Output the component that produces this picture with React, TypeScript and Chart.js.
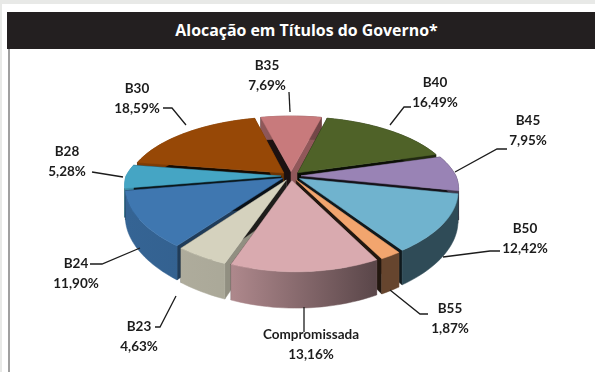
import React, { useEffect, useRef } from "react";
import { Chart, registerables } from "chart.js";

Chart.register(...registerables);

const chartTitle = "Alocação em Títulos do Governo*";
const categories = ["B35", "B40", "B45", "B50", "B55", "Compromissada", "B23", "B24", "B28", "B30"];
const allocation = [7.69, 16.49, 7.95, 12.42, 1.87, 13.16, 4.63, 11.9, 5.28, 18.59];
const sliceColors = ["#C87A7C", "#4F6228", "#9983B5", "#70B3CE", "#F2A56E", "#D9AAAF", "#D5D2BE", "#3F77B0", "#45A5C4", "#974806"];

// Label anchor (centre of the first text row) for each category.
const labelAnchors = [
  [267, 66], [435, 83], [528, 121], [525, 229], [450, 309],
  [311, 335], [139, 327], [76, 264], [67, 152], [137, 89],
];
// Leader polylines running from the slice to its label.
const leaderPaths = [
  [[290, 112], [289, 92]],
  [[390, 125], [404, 107], [411, 107]],
  [[455, 172], [497, 149], [507, 149]],
  [[443, 257], [490, 251], [500, 251]],
  [[390, 290], [420, 314], [428, 314]],
  [[304, 307], [304, 332]],
  [[176, 296], [160, 327], [155, 327]],
  [[140, 248], [102, 264], [90, 264]],
  [[123, 177], [92, 172]],
  [[186, 125], [172, 108], [163, 108]],
];

// Projection of the pie plane onto the screen.
const TILT = 0.447;
const PERSPECTIVE_Y = 0.216;
const PERSPECTIVE_X_NEAR = 0.15;
const PERSPECTIVE_X_FAR = 0.216;
const NEAR_SHEAR = 4;
const DEPTH = 28;
const SLICE_RADIUS = 155;
const EXPLODE = 10;

function shade(hex: string, f: number) {
  const n = parseInt(hex.slice(1), 16);
  const c = [(n >> 16) & 255, (n >> 8) & 255, n & 255].map((v) => Math.round(v * f));
  return `rgb(${c[0]},${c[1]},${c[2]})`;
}

const pie3d = {
  id: "pie3d",
  // The arcs keep their geometry from the controller; only the painting is replaced.
  beforeDatasetDraw(chart: any, args: any) {
    const ctx: CanvasRenderingContext2D = chart.ctx;
    const arcs = args.meta.data.map((el: any, i: number) => ({ el, i }));
    const mid = (el: any) => (el.startAngle + el.endAngle) / 2;
    arcs.sort((a: any, b: any) => Math.sin(mid(a.el)) - Math.sin(mid(b.el)));

    for (const { el, i } of arcs) {
      const R = el.outerRadius;
      const off = el.options.offset;
      const m = mid(el);
      const ox = Math.cos(m) * off;
      const oy = Math.sin(m) * off;
      const project = (px: number, py: number, z: number) => {
        const wy = 1 / (1 - (PERSPECTIVE_Y * py) / R);
        const wx = 1 / (1 - ((py > 0 ? PERSPECTIVE_X_NEAR : PERSPECTIVE_X_FAR) * py) / R);
        const shear = py > 0 ? (NEAR_SHEAR * py) / R : 0;
        return [el.x + px * wx + shear, el.y + (py * TILT - z) * wy];
      };
      const rim = (a: number, z: number) => project(ox + Math.cos(a) * R, oy + Math.sin(a) * R, z);
      const centre = (z: number) => project(ox, oy, z);
      const poly = (pts: number[][], fill: any) => {
        ctx.beginPath();
        pts.forEach((p, k) => (k ? ctx.lineTo(p[0], p[1]) : ctx.moveTo(p[0], p[1])));
        ctx.closePath();
        ctx.fillStyle = fill;
        ctx.fill();
        ctx.strokeStyle = fill;
        ctx.lineWidth = 0.5;
        ctx.stroke();
      };

      const base = sliceColors[i];
      // Radial walls: those turned to the right catch the light.
      const wall = (a: number, nx: number) => {
        const f = 0.14 + 0.62 * Math.max(0, (nx - 0.5) / 0.5);
        poly([centre(0), rim(a, 0), rim(a, -DEPTH), centre(-DEPTH)], shade(base, f));
      };
      wall(el.startAngle, Math.cos(el.startAngle - Math.PI / 2));
      wall(el.endAngle, Math.cos(el.endAngle + Math.PI / 2));

      const steps = Math.max(2, Math.ceil((el.endAngle - el.startAngle) / 0.03));
      const angles = Array.from({ length: steps + 1 }, (_, k) => el.startAngle + ((el.endAngle - el.startAngle) * k) / steps);

      // Outer wall, darkening from left to right across the pie.
      const top = angles.map((a) => rim(a, 0));
      const bottom = angles.map((a) => rim(a, -DEPTH)).reverse();
      const grad = ctx.createLinearGradient(125, 0, 458, 0);
      grad.addColorStop(0, shade(base, 0.84));
      grad.addColorStop(0.32, shade(base, 0.8));
      grad.addColorStop(0.75, shade(base, 0.42));
      grad.addColorStop(1, shade(base, 0.42));
      poly([...top, ...bottom], grad);

      poly([centre(0), ...top], base);
    }
    return false;
  },
  afterDatasetsDraw(chart: any) {
    const ctx: CanvasRenderingContext2D = chart.ctx;
    ctx.save();
    ctx.strokeStyle = "#1c1c1c";
    ctx.lineWidth = 1.3;
    leaderPaths.forEach((path) => {
      ctx.beginPath();
      path.forEach((p, k) => (k ? ctx.lineTo(p[0], p[1]) : ctx.moveTo(p[0], p[1])));
      ctx.stroke();
    });
    ctx.fillStyle = "#1c1c1c";
    ctx.font = "bold 13.5px Lato";
    ctx.textAlign = "center";
    ctx.textBaseline = "middle";
    categories.forEach((name, i) => {
      const [x, y] = labelAnchors[i];
      ctx.fillText(name, x, y);
      ctx.fillText(allocation[i].toFixed(2).replace(".", ",") + "%", x, y + 20);
    });
    ctx.restore();
  },
};

export default function App() {
  const ref = useRef<HTMLCanvasElement>(null);
  useEffect(() => {
    const chart = new Chart(ref.current!, {
      type: "pie",
      data: {
        labels: categories,
        datasets: [
          {
            data: allocation,
            backgroundColor: sliceColors,
            borderWidth: 0,
            offset: EXPLODE,
            radius: SLICE_RADIUS,
          },
        ],
      },
      options: {
        responsive: false,
        animation: false,
        events: [],
        rotation: -13.8,
        layout: { padding: { left: 0, right: 13, top: 0, bottom: 20 } },
        plugins: { legend: { display: false }, tooltip: { enabled: false } },
      },
      plugins: [pie3d],
    } as any);
    return () => chart.destroy();
  }, []);

  return (
    <div style={{ position: "fixed", left: 0, top: 0, width: 595, height: 372, background: "#fff", overflow: "hidden" }}>
      <div style={{ position: "absolute", left: 0, top: 0, width: 595, height: 4, background: "#E8E9E7" }} />
      <div style={{ position: "absolute", left: 0, top: 0, width: 2, height: 372, background: "#E8E9E7" }} />
      <div style={{ position: "absolute", left: 8, top: 49, width: 2, height: 323, background: "#A0A0A0" }} />
      <div
        style={{
          position: "absolute",
          left: 7,
          top: 12,
          width: 588,
          height: 37,
          paddingLeft: 11,
          boxSizing: "border-box",
          background: "#231F20",
          color: "#fff",
          font: "bold 15.9px 'Open Sans'",
          lineHeight: "36px",
          textAlign: "center",
        }}
      >
        {chartTitle}
      </div>
      <canvas ref={ref} width={595} height={372} style={{ position: "absolute", left: 0, top: 0, display: "block" }} />
    </div>
  );
}
